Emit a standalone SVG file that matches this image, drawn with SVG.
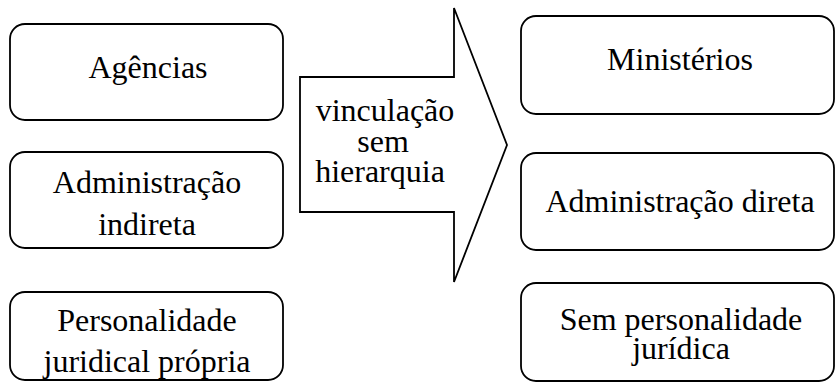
<svg xmlns="http://www.w3.org/2000/svg" width="836" height="387" viewBox="0 0 836 387">
<style>
.box{fill:#fff;stroke:#000;stroke-width:1.8}
.t{font-family:"Liberation Serif","Times New Roman",serif;font-size:32px;fill:#000;text-anchor:middle}
</style>
<rect width="836" height="387" fill="#fff"/>
<g id="connectors">
<polygon class="box" points="300,77 454,77 454,8 507,145 454,282 454,212 300,212"/>
<text class="t" x="385" y="121">vinculação</text>
<text class="t" x="383" y="152">sem</text>
<text class="t" x="380" y="182">hierarquia</text>
</g>
<g id="agencias">
<rect class="box" x="10" y="24" width="273" height="96" rx="15"/>
<text class="t" x="148" y="78">Agências</text>
</g>
<g id="adm-indireta">
<rect class="box" x="10" y="152" width="273" height="96" rx="15"/>
<text class="t" x="147" y="193">Administração</text>
<text class="t" x="147" y="235">indireta</text>
</g>
<g id="personalidade">
<rect class="box" x="10" y="292" width="273" height="88" rx="15"/>
<text class="t" x="147" y="331">Personalidade</text>
<text class="t" x="147" y="372">juridical própria</text>
</g>
<g id="ministerios">
<rect class="box" x="521" y="16" width="313" height="98" rx="15"/>
<text class="t" x="680" y="70">Ministérios</text>
</g>
<g id="adm-direta">
<rect class="box" x="521" y="153" width="313" height="97" rx="15"/>
<text class="t" x="680" y="212">Administração direta</text>
</g>
<g id="sem-personalidade">
<rect class="box" x="521" y="283" width="313" height="98" rx="15"/>
<text class="t" x="681" y="330">Sem personalidade</text>
<text class="t" x="681" y="359">jurídica</text>
</g>
</svg>
